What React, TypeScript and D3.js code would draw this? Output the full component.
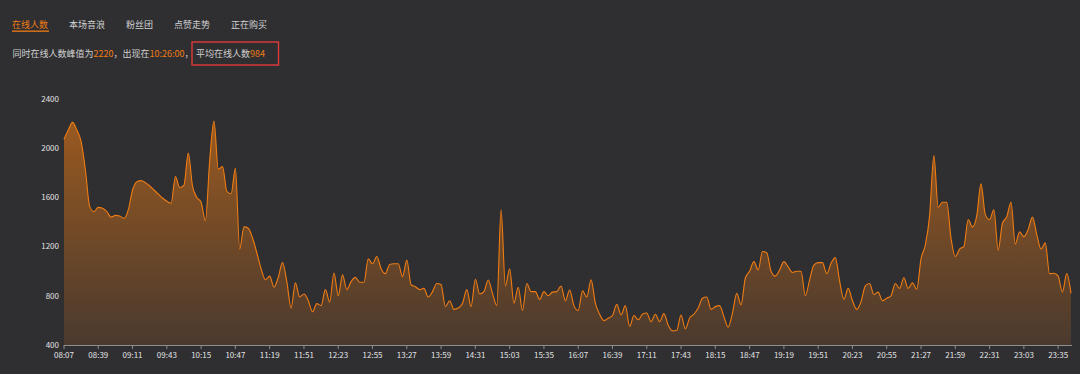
import React from "react";
import * as d3 from "d3";

// 在线人数，08:07 开始每 4 分钟一个点
const startTime = new Date(2021, 0, 1, 8, 7);
const stepMinutes = 4;
const onlineCount = [
  2072, 2148, 2210, 2148, 2053, 1823, 1525, 1484, 1519, 1511,
  1484, 1440, 1454, 1449, 1430, 1498, 1660, 1728, 1736, 1720,
  1693, 1660, 1628, 1595, 1568, 1552, 1770, 1680, 1700, 1960,
  1690, 1600, 1560, 1410, 1900, 2220, 1830, 1850, 1650, 1630,
  1836, 1180, 1360, 1350, 1270, 1150, 1020, 930, 960, 870,
  950, 1070, 915, 700, 905, 790, 815, 760, 670, 736,
  720, 850, 750, 985, 800, 970, 850, 915, 950, 910,
  910, 1100, 1060, 1120, 1020, 980, 1055, 1060, 1060, 956,
  1090, 890, 874, 850, 860, 790, 834, 900, 890, 712,
  760, 690, 700, 740, 850, 712, 935, 815, 834, 928,
  820, 720, 1500, 880, 1020, 740, 870, 680, 900, 834,
  834, 770, 834, 800, 830, 834, 880, 760, 847,
  720, 680, 840, 790, 930, 740, 650, 598, 617, 640,
  730, 644, 720, 550, 640, 605, 650, 660, 590, 650,
  590, 655, 560, 515, 520, 644, 530, 620, 650, 700,
  780, 790, 690, 712, 720, 630, 545, 660, 820, 725,
  945, 1000, 1078, 1010, 1160, 1150, 1000, 960, 1010, 1078,
  1035, 990, 1000, 1000, 800, 930, 1050, 1070, 1070, 980,
  1064, 1110, 920, 770, 860, 760, 690, 752, 880, 900,
  810, 830, 760, 780, 800, 900, 860, 947, 860,
  905, 853, 1100, 1213, 1450, 1940, 1520, 1560, 1560, 1267,
  1118, 1180, 1200, 1420, 1360, 1450, 1710, 1460, 1420, 1500,
  1170, 1390, 1443, 1560, 1220, 1320, 1281, 1340, 1440, 1300,
  1180, 1230, 980, 983, 960, 830, 980, 820,
];
const yTicks = [400, 800, 1200, 1600, 2000, 2400];
const xTickEvery = 32; // 分钟
const tabs = ["在线人数", "本场音浪", "粉丝团", "点赞走势", "正在购买"];
const peakValue = 2220;
const peakTime = "10:26:00";
const avgValue = 984;

const W = 1080;
const H = 374;
const ORANGE = "#f07c12";
const FONT = "'Microsoft YaHei', 'Noto Sans CJK SC', sans-serif";

export default function App() {
  const points = onlineCount.map((v, i) => ({
    t: d3.timeMinute.offset(startTime, i * stepMinutes),
    v,
  }));
  const endTime = points[points.length - 1].t;

  const x = d3.scaleTime().domain([startTime, endTime]).range([64, 1071]);
  const y = d3.scaleLinear().domain([400, 2400]).range([345, 99]);

  const area = d3
    .area<{ t: Date; v: number }>()
    .x((d) => x(d.t))
    .y0(y(400))
    .y1((d) => y(d.v))
    .curve(d3.curveMonotoneX);
  const line = d3
    .line<{ t: Date; v: number }>()
    .x((d) => x(d.t))
    .y((d) => y(d.v))
    .curve(d3.curveMonotoneX);

  const xTicks = d3
    .range(0, d3.timeMinute.count(startTime, endTime) + 1, xTickEvery)
    .map((m) => d3.timeMinute.offset(startTime, m));
  const fmt = d3.timeFormat("%H:%M");

  // tab 位置
  let tx = 12;
  const tabPos = tabs.map((t) => {
    const p = tx;
    tx += t.length * 9 + 21;
    return p;
  });

  const maxV = d3.max(onlineCount) as number;

  return (
    <svg
      width={W}
      height={H}
      style={{ position: "absolute", left: 0, top: 0, display: "block", background: "#2f2f32" }}
      fontFamily={FONT}
    >
      <rect width={W} height={H} fill="#2f2f32" />
      <defs>
        <linearGradient id="areaFill" gradientUnits="userSpaceOnUse" x1={0} y1={y(maxV)} x2={0} y2={y(400)}>
          <stop offset="0%" stopColor={ORANGE} stopOpacity={0.55} />
          <stop offset="100%" stopColor={ORANGE} stopOpacity={0.14} />
        </linearGradient>
      </defs>

      {/* tabs */}
      {tabs.map((t, i) => (
        <text key={t} x={tabPos[i]} y={27.5} fontSize={9} fill={i === 0 ? ORANGE : "#d2d2d2"}>
          {t}
        </text>
      ))}
      <rect x={12} y={30.5} width={37} height={1.3} fill={ORANGE} />

      {/* summary */}
      <text x={12.5} y={57} fontSize={9} fill="#cfcfcf">
        同时在线人数峰值为<tspan fill={ORANGE}>{peakValue}</tspan>，出现在
        <tspan fill={ORANGE}>{peakTime}</tspan>，
      </text>
      <rect x={192} y={42} width={86.5} height={23} fill="none" stroke="#e0393b" strokeWidth={1.4} />
      <text x={196} y={57} fontSize={9} fill="#cfcfcf">
        平均在线人数<tspan fill={ORANGE}>{avgValue}</tspan>
      </text>

      {/* chart */}
      <path d={area(points) as string} fill="url(#areaFill)" />
      <path d={line(points) as string} fill="none" stroke={ORANGE} strokeWidth={1.1} strokeLinejoin="round" />

      {/* y axis labels */}
      {yTicks.map((v) => (
        <text key={v} x={59} y={y(v)} dy="0.35em" fontSize={8} textAnchor="end" fill="#e2e2e2">
          {v}
        </text>
      ))}

      {/* x axis */}
      <line x1={64} x2={1072} y1={y(400) + 0.5} y2={y(400) + 0.5} stroke="#8d8d8d" strokeWidth={1} />
      {xTicks.map((t) => (
        <g key={+t} transform={`translate(${x(t)},0)`}>
          <line y1={y(400)} y2={y(400) + 4} stroke="#8d8d8d" strokeWidth={1} />
          <text y={358} fontSize={8} textAnchor="middle" fill="#e2e2e2">
            {fmt(t)}
          </text>
        </g>
      ))}
    </svg>
  );
}
